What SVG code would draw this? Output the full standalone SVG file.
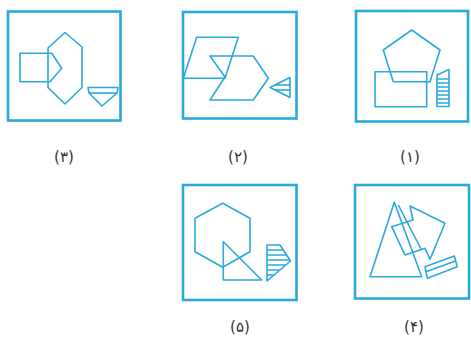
<svg xmlns="http://www.w3.org/2000/svg" width="471" height="343" viewBox="0 0 471 343">
<style>
.frame{fill:none;stroke:#2aa9dc;stroke-width:2.6}
.s{fill:none;stroke:#2aa9dc;stroke-width:1.6;stroke-linejoin:round}
.lbl{font-family:"DejaVu Sans",sans-serif;font-size:15px;fill:#333;text-anchor:middle}
</style>
<rect width="471" height="343" fill="#fff"/>
<g id="fig3">
<rect class="frame" x="8" y="11.5" width="112.5" height="109"/>
<polygon class="s" points="65,32.5 82,47 82,87.5 65,104 48,87.5 48,48"/>
<polygon class="s" points="20,53.3 51.7,53.3 61.7,68.3 50,81.7 20,81.7"/>
<polygon class="s" points="88,87.5 118,87.5 117,93 102,106 89,93"/>
<line class="s" x1="89" y1="93" x2="117" y2="93"/>
<text class="lbl" x="64" y="162">(۳)</text>
</g>
<g id="fig2">
<rect class="frame" x="183" y="12" width="113.5" height="106.5"/>
<polygon class="s" points="196.7,37.3 238.3,37.3 225,78.3 183.3,78.3"/>
<polygon class="s" points="210,56 253.3,56 268.3,78.3 253.3,100 210,100 225,77"/>
<polygon class="s" points="270,87.5 290,77.5 290,97.5"/>
<line class="s" x1="275" y1="85" x2="290" y2="85"/>
<line class="s" x1="275" y1="90" x2="290" y2="90"/>
<text class="lbl" x="238" y="162">(۲)</text>
</g>
<g id="fig1">
<rect class="frame" x="356" y="11" width="112" height="110.5"/>
<polygon class="s" points="411.7,30 440,50 430,81.7 393.3,81.7 383.3,50"/>
<rect class="s" x="375" y="71.7" width="51.7" height="35"/>
<polygon class="s" points="437,75 449,69.5 449,106.5 437,106.5"/>
<path class="s" d="M437,79H449M437,83H449M437,87H449M437,91H449M437,95H449M437,99H449M437,103H449"/>
<text class="lbl" x="410" y="162">(۱)</text>
</g>
<g id="fig5">
<rect class="frame" x="183" y="185" width="113.5" height="115"/>
<polygon class="s" points="222.7,203.3 250,218.3 250,251.7 222.7,267.3 195,251.7 195,218.3"/>
<polygon class="s" points="223.3,241.7 223.3,280 261.7,280"/>
<polygon class="s" points="267,245 280,245 290.5,261 267,281"/>
<path class="s" d="M267,250H283.3M267,255H286.6M267,260H289.8M267,265H285.8M267,270H279.9M267,275H274"/>
<text class="lbl" x="240" y="332">(۵)</text>
</g>
<g id="fig4">
<rect class="frame" x="355" y="185" width="114" height="113.5"/>
<polygon class="s" points="394.3,202.3 370,276.7 421.7,276.7"/>
<polygon class="s" points="410,206 445,223.3 430,259.3 425,248.3 405,255 391.7,226.7 413,220"/>
<line class="s" x1="398.3" y1="205" x2="421" y2="249"/>
<polygon class="s" points="425,266.7 454.3,256 457.3,266.7 427.3,278.3"/>
<line class="s" x1="425.8" y1="271.8" x2="455.6" y2="261"/>
<text class="lbl" x="414" y="332">(۴)</text>
</g>
<g id="connectors"/>
</svg>
